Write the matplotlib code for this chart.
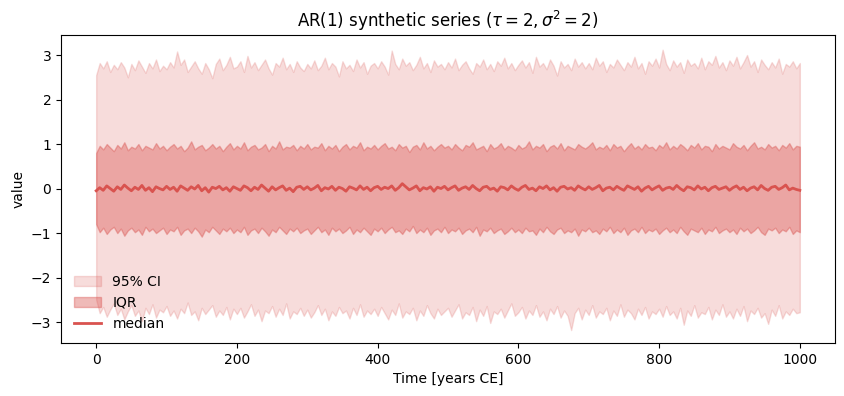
import numpy as np
import matplotlib
matplotlib.use('Agg')
import matplotlib.pyplot as plt

# time axis, every 5 years
years = np.arange(0, 1001, 5)

# 97.5% quantile
q975 = [2.55, 2.82, 2.70, 2.86, 2.62, 2.78, 2.68, 2.84, 2.72, 2.50, 2.80, 2.66, 2.88, 2.74, 2.60, 2.82, 2.70, 2.90, 2.64, 2.76,
        2.68, 2.84, 2.72, 3.08, 2.78, 2.90, 2.62, 2.74, 2.86, 2.70, 2.58, 2.82, 2.68, 2.48, 2.80, 2.92, 2.66, 2.78, 2.96, 2.70,
        2.74, 2.86, 2.62, 2.98, 2.72, 2.84, 2.66, 2.78, 2.90, 2.70, 2.56, 2.82, 2.74, 2.94, 2.68, 2.80, 2.62, 2.86, 2.72, 2.64,
        2.80, 2.70, 2.88, 2.66, 2.76, 2.94, 2.68, 2.82, 2.74, 2.52, 2.86, 2.70, 2.78, 2.64, 2.90, 2.72, 2.84, 2.58, 2.76, 2.82,
        2.70, 2.86, 2.74, 2.56, 3.10, 2.80, 2.68, 2.92, 2.76, 2.84, 2.66, 2.78, 2.96, 2.70, 2.82, 2.62, 2.88, 2.74, 2.80, 2.68,
        2.84, 2.72, 2.92, 2.66, 2.78, 2.86, 2.70, 2.58, 2.82, 2.74, 2.90, 2.68, 2.80, 2.64, 2.86, 2.76, 2.94, 2.70, 2.82, 2.66,
        2.78, 2.88, 2.72, 2.84, 2.60, 2.96, 2.74, 2.82, 2.68, 2.90, 2.76, 2.54, 2.86, 2.72, 2.80, 2.66, 2.92, 2.74, 2.84, 2.70,
        2.82, 2.68, 2.94, 2.76, 2.86, 2.62, 2.80, 2.72, 2.90, 2.78, 2.66, 2.84, 2.74, 2.96, 2.70, 2.82, 2.58, 2.86, 2.76, 2.92,
        2.72, 3.12, 2.80, 2.66, 2.88, 2.74, 2.84, 2.60, 2.90, 2.76, 2.82, 2.70, 2.94, 2.68, 2.86, 2.78, 2.98, 2.72, 2.84, 2.66,
        2.88, 2.76, 2.96, 2.70, 2.84, 3.00, 2.74, 2.86, 2.62, 2.90, 2.78, 2.68, 2.84, 2.72, 2.92, 2.58, 2.80, 2.74, 2.86, 2.70,
        2.82]

# 75% quantile
q75 = [0.80, 0.96, 0.88, 1.00, 0.92, 0.84, 0.98, 0.90, 1.04, 0.86, 0.94, 0.90, 1.00, 0.86, 0.96, 0.92, 0.88, 1.02, 0.90, 0.96,
       0.86, 0.94, 1.00, 0.90, 0.96, 0.84, 0.92, 1.06, 0.88, 0.94, 0.98, 0.86, 0.92, 1.00, 0.90, 0.96, 0.84, 0.94, 1.02, 0.88,
       0.96, 0.90, 1.04, 0.86, 0.94, 0.98, 0.88, 0.92, 1.00, 0.84, 0.96, 0.90, 1.06, 0.88, 0.94, 0.92, 0.98, 0.86, 0.96, 0.90,
       1.00, 0.88, 0.94, 0.92, 1.02, 0.86, 0.96, 0.90, 0.98, 0.84, 0.94, 1.00, 0.88, 0.96, 0.92, 1.04, 0.86, 0.94, 0.90, 0.98,
       0.88, 0.96, 1.02, 0.90, 0.94, 0.86, 1.00, 0.92, 0.96, 0.82, 0.94, 0.98, 0.88, 1.04, 0.90, 0.96, 0.86, 0.94, 1.00, 0.92,
       0.96, 0.88, 1.00, 0.92, 0.86, 0.98, 0.94, 1.04, 0.88, 0.92, 0.96, 0.84, 1.00, 0.90, 0.94, 1.02, 0.88, 0.96, 0.92, 0.86,
       0.98, 0.90, 0.94, 1.06, 0.88, 0.96, 0.92, 1.00, 0.84, 0.94, 0.98, 0.90, 1.02, 0.86, 0.96, 0.92, 0.88, 1.00, 0.94, 0.90,
       0.96, 1.04, 0.88, 0.94, 0.90, 0.98, 0.86, 1.00, 0.92, 0.96, 0.84, 0.94, 1.02, 0.90, 0.96, 0.88, 1.00, 0.92, 0.94, 0.86,
       0.98, 0.92, 1.04, 0.88, 0.96, 0.90, 1.00, 0.94, 0.86, 0.98, 0.92, 1.02, 0.88, 0.96, 0.94, 0.84, 1.00, 0.90, 0.96, 0.92,
       0.88, 1.02, 0.94, 0.90, 0.98, 0.86, 0.96, 1.04, 0.90, 0.94, 0.88, 1.00, 0.92, 0.96, 0.86, 0.98, 0.92, 1.02, 0.88, 0.96,
       0.94]

# median
q50 = [-0.05, 0.02, -0.04, 0.06, 0.00, -0.06, 0.04, -0.02, 0.08, 0.01, -0.05, 0.03, -0.02, 0.07, -0.04, 0.02, -0.07, 0.04, 0.00, -0.03,
       0.05, -0.02, 0.03, -0.06, 0.06, 0.01, -0.04, 0.04, -0.01, 0.07, -0.05, 0.02, -0.08, 0.03, 0.00, 0.05, -0.03, 0.02, -0.06, 0.04,
       0.00, -0.04, 0.06, 0.02, -0.05, 0.03, -0.02, 0.08, 0.01, -0.06, 0.04, -0.03, 0.02, 0.06, -0.04, 0.01, -0.07, 0.03, 0.05, -0.02,
       0.04, -0.03, 0.01, 0.07, -0.05, 0.02, -0.01, 0.05, -0.04, 0.03, 0.00, -0.06, 0.04, 0.01, -0.03, 0.06, -0.02, 0.03, -0.05, 0.02,
       0.05, -0.02, 0.03, 0.00, 0.06, -0.04, 0.02, 0.11, 0.04, -0.03, 0.01, 0.06, -0.05, 0.02, -0.01, 0.04, -0.06, 0.03, 0.00, 0.05,
       -0.03, 0.02, 0.06, -0.04, 0.01, 0.04, -0.02, 0.07, 0.00, -0.05, 0.03, 0.05, -0.02, 0.01, -0.06, 0.04, 0.02, -0.03, 0.06, 0.00,
       -0.04, 0.03, 0.07, -0.02, 0.01, -0.05, 0.04, 0.00, 0.06, -0.03, 0.02, -0.06, 0.03, 0.05, -0.01, 0.02, -0.04, 0.06, 0.01, -0.03,
       0.04, -0.02, 0.02, 0.07, -0.05, 0.01, 0.03, -0.03, 0.05, 0.00, -0.04, 0.06, 0.02, -0.02, 0.04, -0.06, 0.01, 0.05, -0.03, 0.02,
       0.06, -0.04, 0.01, 0.03, -0.02, 0.07, 0.00, -0.05, 0.04, 0.02, -0.03, 0.06, -0.01, 0.03, -0.05, 0.02, 0.05, -0.02, 0.01, 0.04,
       -0.04, 0.02, 0.06, -0.02, 0.03, -0.05, 0.01, 0.04, -0.03, 0.07, 0.00, -0.04, 0.03, 0.05, -0.02, 0.02, 0.08, -0.03, 0.01, -0.02,
       -0.04]

# 25% quantile
q25 = [-0.80, -0.98, -0.88, -1.02, -0.92, -0.86, -1.00, -0.90, -1.06, -0.94, -0.88, -0.98, -0.92, -1.04, -0.86, -0.96, -0.90, -1.00, -0.94, -0.88,
       -1.02, -0.92, -0.96, -0.86, -1.04, -0.94, -0.90, -1.00, -0.88, -0.96, -1.08, -0.92, -0.98, -0.86, -0.94, -1.02, -0.90, -0.96, -0.88, -1.00,
       -0.92, -0.98, -0.86, -1.04, -0.94, -0.90, -1.00, -0.88, -0.96, -1.06, -0.92, -0.98, -0.86, -0.94, -1.02, -0.90, -0.96, -0.88, -1.00, -0.94,
       -0.90, -1.02, -0.94, -0.86, -0.98, -0.92, -1.04, -0.88, -0.96, -0.90, -1.00, -0.94, -0.86, -1.02, -0.92, -0.98, -0.88, -0.96, -1.04, -0.90,
       -0.96, -0.88, -1.00, -0.92, -0.86, -0.98, -0.94, -1.02, -0.90, -0.96, -0.84, -1.00, -0.92, -0.98, -0.88, -1.04, -0.94, -0.90, -0.98, -0.86,
       -1.00, -0.92, -0.96, -0.88, -1.02, -0.94, -0.90, -0.98, -0.86, -1.06, -0.92, -0.96, -0.88, -1.00, -0.94, -0.90, -1.02, -0.96, -0.88, -0.98,
       -0.92, -1.00, -0.88, -0.96, -0.94, -1.04, -0.90, -0.98, -0.86, -0.96, -1.02, -0.92, -0.88, -1.00, -0.94, -0.98, -0.90, -1.06, -0.92, -0.96,
       -0.88, -0.98, -0.94, -1.02, -0.90, -0.96, -0.86, -1.00, -0.92, -0.98, -0.88, -1.04, -0.94, -0.90, -0.98, -0.86, -1.00, -0.92, -0.96, -0.90,
       -1.02, -0.94, -0.88, -0.98, -0.92, -1.00, -0.86, -0.96, -1.04, -0.90, -0.94, -0.98, -0.88, -1.02, -0.92, -0.96, -0.86, -1.00, -0.94, -0.90,
       -0.98, -0.92, -1.02, -0.88, -0.96, -0.90, -1.00, -0.94, -0.86, -0.98, -1.04, -0.90, -0.94, -0.88, -1.00, -0.92, -0.96, -0.86, -1.02, -0.94,
       -0.98]

# 2.5% quantile
q025 = [-2.50, -2.80, -2.66, -2.88, -2.72, -2.58, -2.84, -2.70, -2.94, -2.76, -2.62, -2.86, -2.74, -2.98, -2.68, -2.82, -2.60, -2.90, -2.72, -2.78,
        -2.64, -2.86, -2.74, -2.92, -2.70, -2.80, -2.56, -2.84, -2.76, -2.96, -2.68, -2.82, -2.72, -2.62, -2.88, -2.74, -2.84, -2.66, -2.94, -2.70,
        -2.82, -2.68, -2.90, -2.76, -2.60, -2.86, -2.72, -2.98, -2.74, -2.80, -2.64, -2.88, -2.70, -2.84, -2.58, -2.92, -2.76, -2.82, -2.68, -2.86,
        -2.72, -2.90, -2.78, -2.62, -2.84, -2.70, -2.96, -2.76, -2.86, -2.66, -2.80, -2.74, -2.92, -2.68, -2.84, -2.60, -2.88, -2.74, -2.82, -2.70,
        -2.86, -2.66, -2.80, -2.94, -2.72, -2.84, -2.58, -2.90, -2.76, -2.82, -2.68, -2.96, -2.74, -2.86, -2.62, -2.80, -2.92, -2.70, -2.84, -2.76,
        -2.68, -2.88, -2.74, -2.60, -2.92, -2.78, -2.84, -2.66, -2.98, -2.72, -2.86, -2.64, -3.02, -2.76, -2.82, -2.70, -2.90, -2.74, -2.58, -2.86,
        -2.78, -2.66, -2.92, -2.74, -2.84, -2.62, -2.88, -2.76, -2.96, -2.70, -2.82, -2.64, -2.90, -2.74, -2.86, -3.18, -2.80, -2.68, -2.94, -2.72,
        -2.84, -2.62, -2.90, -2.76, -2.82, -2.68, -2.96, -2.74, -2.86, -2.60, -2.88, -2.72, -2.80, -2.94, -2.70, -2.84, -2.66, -2.92, -2.76, -2.82,
        -2.70, -2.88, -2.64, -2.84, -2.76, -2.92, -2.68, -3.06, -2.74, -2.86, -2.62, -2.90, -2.78, -2.82, -2.66, -2.94, -2.72, -2.84, -2.60, -2.88,
        -2.76, -2.92, -2.70, -2.86, -2.64, -2.98, -2.74, -2.82, -2.68, -2.90, -2.80, -3.04, -2.72, -2.86, -2.62, -2.92, -2.76, -2.84, -2.70, -2.80,
        -2.78]

color = '#d9534f'

fig = plt.figure(figsize=(8.44, 3.96), dpi=100)
ax = fig.add_axes([61 / 844, 1 - 343 / 396, 774 / 844, 308 / 396])

ax.fill_between(years, q025, q975, color=color, alpha=0.2, label='95% CI')
ax.fill_between(years, q25, q75, color=color, alpha=0.4, label='IQR')
ax.plot(years, q50, color=color, lw=2, label='median')

ax.set_ylim(-3.47, 3.45)
ax.set_xlabel('Time [years CE]')
ax.set_ylabel('value')
ax.set_title(r'AR(1) synthetic series ($\tau=2, \sigma^2=2$)')
ax.legend(loc='lower left', frameon=False)

fig.savefig('out.png', dpi=100)
